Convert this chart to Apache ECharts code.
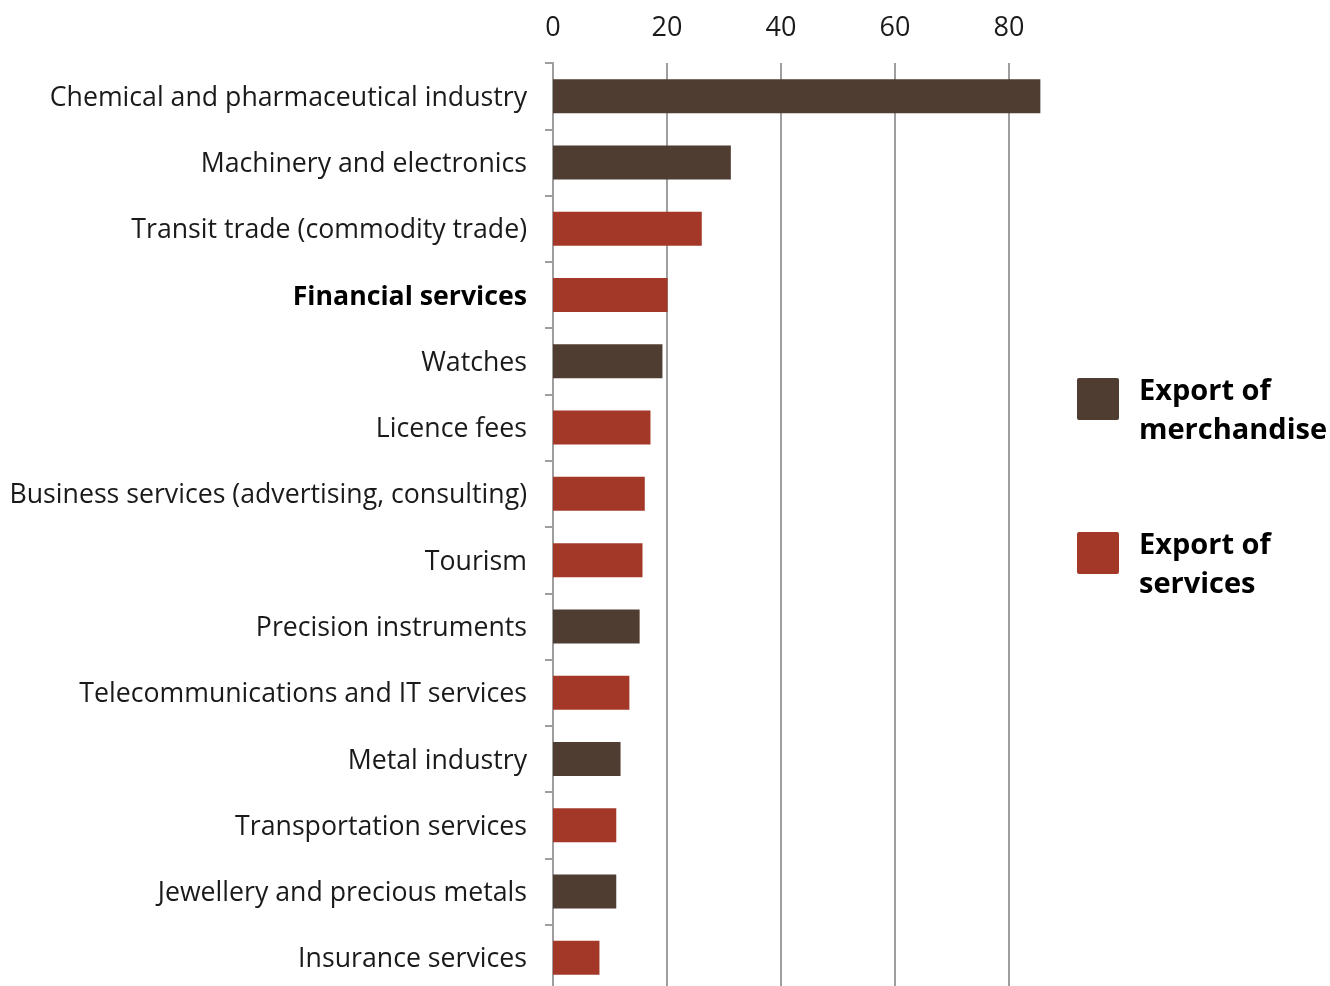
<!DOCTYPE html>
<html>
<head>
<meta charset="utf-8">
<script src="https://cdn.jsdelivr.net/npm/echarts@6/dist/echarts.min.js"></script>
<style>
  html, body { margin: 0; padding: 0; background: #ffffff; }
  #chart { width: 1330px; height: 986px; }
</style>
</head>
<body>
<div id="chart"></div>
<script>
// Swiss export sectors, CHF billions
const categories = [
  'Chemical and pharmaceutical industry',
  'Machinery and electronics',
  'Transit trade (commodity trade)',
  'Financial services',
  'Watches',
  'Licence fees',
  'Business services (advertising, consulting)',
  'Tourism',
  'Precision instruments',
  'Telecommunications and IT services',
  'Metal industry',
  'Transportation services',
  'Jewellery and precious metals',
  'Insurance services'
];
const values = [85.5, 31.2, 26.1, 20.1, 19.2, 17.1, 16.1, 15.7, 15.2, 13.4, 11.85, 11.1, 11.1, 8.15];
// 'm' = merchandise, 's' = services
const kinds = ['m', 'm', 's', 's', 'm', 's', 's', 's', 'm', 's', 'm', 's', 'm', 's'];
const seriesNames = ['Export of merchandise', 'Export of services'];
const legendLines = [['Export of', 'merchandise'], ['Export of', 'services']];
const xTicks = [0, 20, 40, 60, 80];

const BROWN = '#4f3d32';
const RED = '#a33828';
const GREY = '#9e9e9e';
const FONT = '"Open Sans", "Noto Sans", sans-serif';
const PX_PER_UNIT = 5.7;

const merchData = values.map((v, i) => (kinds[i] === 'm' ? v : '-'));
const servData = values.map((v, i) => (kinds[i] === 's' ? v : '-'));

const chart = echarts.init(document.getElementById('chart'), null, { renderer: 'canvas' });

// Legend text sits a little lower than its swatch: a short spacer line on top
const legendCommon = {
  orient: 'vertical',
  left: 1077,
  padding: 0,
  itemWidth: 42,
  itemHeight: 42,
  itemGap: 0,
  icon: 'path://M2,0 L40,0 Q42,0 42,2 L42,40 Q42,42 40,42 L2,42 Q0,42 0,40 L0,2 Q0,0 2,0 Z',
  itemStyle: { borderWidth: 0 },
  selectedMode: false,
  formatter: name => {
    const lines = legendLines[seriesNames.indexOf(name)];
    return '{s| }\n' + lines.map(l => '{t|' + l + '}').join('\n');
  },
  textStyle: {
    fontFamily: FONT,
    fontSize: 29,
    fontWeight: 'bold',
    color: '#000000',
    padding: [0, 0, 0, 15],
    rich: {
      s: { fontSize: 4, lineHeight: 24 },
      t: { fontFamily: FONT, fontSize: 29, fontWeight: 'bold', color: '#000000', lineHeight: 39 }
    }
  }
};

chart.setOption({
  animation: false,
  backgroundColor: '#ffffff',
  textStyle: { fontFamily: FONT },
  legend: [
    Object.assign({}, legendCommon, { data: [seriesNames[0]], top: 358 }),
    Object.assign({}, legendCommon, { data: [seriesNames[1]], top: 512 })
  ],
  grid: {
    left: 553,
    top: 63,
    width: 86 * PX_PER_UNIT,
    height: 928,
    containLabel: false,
    outerBoundsMode: 'none'
  },
  xAxis: {
    type: 'value',
    position: 'top',
    min: 0,
    max: 86,
    interval: 20,
    axisLine: { show: false },
    axisTick: { show: false },
    splitLine: {
      show: true,
      showMaxLine: false,
      lineStyle: { color: GREY, width: 2 }
    },
    axisLabel: {
      showMaxLabel: false,
      margin: 21,
      fontFamily: FONT,
      fontSize: 27,
      color: '#1a1a1a',
      formatter: v => (xTicks.indexOf(v) >= 0 ? String(v) : '')
    }
  },
  yAxis: {
    type: 'category',
    inverse: true,
    data: categories,
    axisLine: { show: true, lineStyle: { color: GREY, width: 2 } },
    axisTick: { show: true, length: 8, interval: 0, lineStyle: { color: GREY, width: 2 } },
    axisLabel: {
      interval: 0,
      margin: 26,
      fontFamily: FONT,
      fontSize: 26.7,
      color: '#1a1a1a',
      padding: [4, 0, 0, 0],
      formatter: v => (v === 'Financial services' ? '{b|' + v + '}' : v),
      rich: {
        b: { fontFamily: FONT, fontSize: 26.7, fontWeight: 'bold', color: '#000000' }
      }
    }
  },
  series: [
    {
      name: seriesNames[0],
      type: 'bar',
      stack: 'total',
      barWidth: 34,
      itemStyle: { color: BROWN },
      data: merchData
    },
    {
      name: seriesNames[1],
      type: 'bar',
      stack: 'total',
      barWidth: 34,
      itemStyle: { color: RED },
      data: servData
    }
  ]
});
</script>
</body>
</html>
